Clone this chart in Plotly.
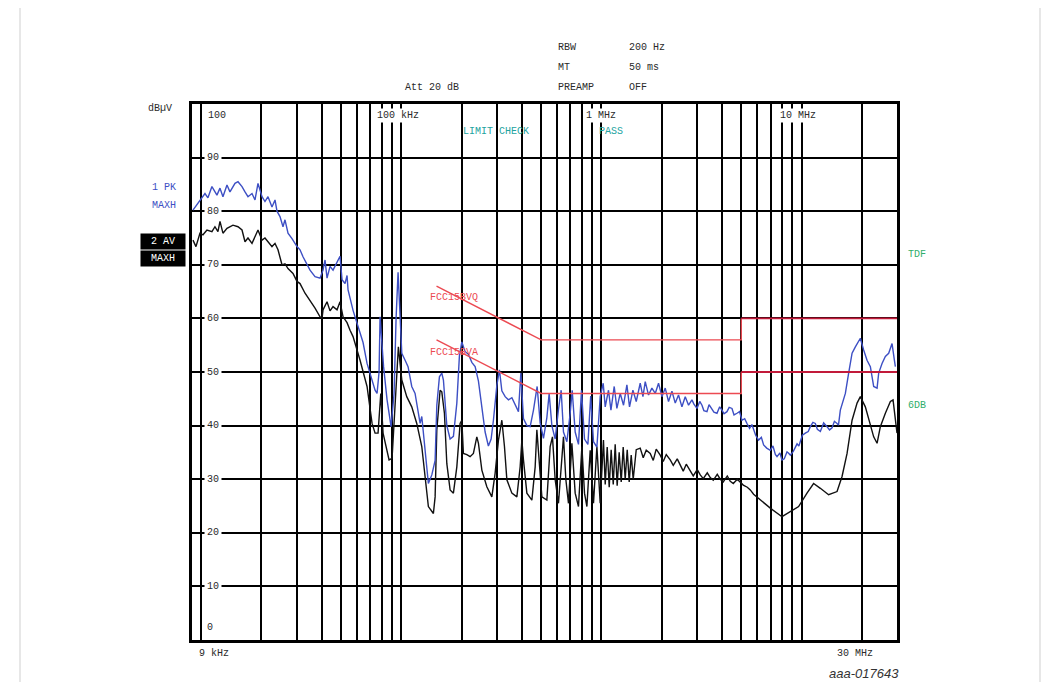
import math
import plotly.graph_objects as go

# ---------------- data ----------------
# trace 1: PK MAXH  (frequency kHz, level dBµV)
peak_trace = [
    (9.10, 80.2), (9.42, 81.0), (9.86, 82.1), (10.21, 83.0), (10.45, 83.3), (10.81, 82.5), (11.32, 84.6),
    (11.99, 83.0), (12.42, 84.3), (12.85, 82.7), (13.46, 84.9), (13.93, 83.6), (14.76, 85.2), (15.28, 85.5),
    (16.00, 84.6), (16.56, 83.6), (17.14, 82.7), (17.95, 83.3), (18.58, 82.1), (19.23, 85.2), (20.14, 82.7),
    (20.84, 81.8), (21.58, 82.7), (22.59, 80.8), (23.39, 82.1), (23.93, 80.0), (24.77, 79.0), (25.64, 77.1),
    (26.24, 78.4), (27.16, 75.9), (28.44, 74.9), (30.13, 73.4), (31.19, 72.8), (32.28, 71.5), (33.81, 70.2),
    (34.99, 69.0), (37.07, 67.8), (39.26, 67.5), (40.64, 69.0), (41.59, 70.9), (42.56, 67.5), (44.06, 69.7),
    (45.60, 69.0), (47.75, 70.6), (49.43, 71.6), (50.58, 67.2), (52.36, 66.5), (53.58, 68.0), (54.20, 65.3),
    (57.41, 61.5), (60.81, 58.5), (64.42, 55.5), (67.45, 51.6), (71.45, 48.5), (73.96, 46.6), (75.68, 46.0),
    (77.45, 50.0), (78.34, 60.3), (80.17, 54.7), (81.58, 51.0), (84.92, 44.8), (88.92, 39.8), (92.04, 46.0),
    (94.19, 60.0), (96.38, 68.6), (98.63, 60.0), (100.6, 53.5), (104.5, 52.2), (108.1, 51.0), (112.8, 47.3),
    (117.2, 46.0), (121.8, 42.3), (124.2, 40.4), (126.6, 41.7), (129.0, 38.6), (134.1, 31.7), (136.6, 29.2),
    (142.1, 30.8), (147.6, 33.5), (150.5, 43.8), (155.1, 49.1), (159.4, 49.8), (162.4, 48.5), (168.9, 40.0),
    (175.4, 37.5), (182.2, 38.0), (189.5, 44.2), (195.2, 53.0), (200.7, 55.6), (208.4, 53.8), (216.5, 53.3),
    (225.2, 51.8), (233.9, 51.0), (243.0, 48.3), (252.7, 43.5), (262.4, 38.8), (272.5, 36.2), (281.2, 37.5),
    (288.7, 41.0), (300.3, 47.5), (309.4, 50.4), (318.1, 46.5), (330.4, 45.4), (343.2, 44.8), (357.0, 45.2),
    (370.7, 44.0), (385.1, 42.6), (395.9, 49.8), (407.9, 41.3), (424.2, 40.0), (440.6, 39.8), (457.7, 42.9),
    (477.5, 47.3), (494.3, 40.5), (513.5, 37.6), (534.0, 41.5), (548.3, 46.0), (565.6, 40.0), (587.5, 37.5),
    (610.2, 43.0), (629.5, 46.6), (646.4, 38.8), (672.3, 37.0), (698.2, 42.3), (714.5, 46.6), (739.6, 38.8),
    (768.3, 36.5), (795.3, 46.6), (823.3, 37.5), (856.2, 36.5), (884.2, 45.5), (913.1, 37.0), (949.6, 36.0),
    (986.3, 45.4), (1021, 47.9), (1045, 43.5), (1085, 46.6), (1116, 42.9), (1159, 47.3), (1195, 43.2),
    (1242, 46.0), (1290, 43.8), (1341, 47.6), (1382, 43.5), (1437, 46.6), (1493, 44.5), (1563, 47.9),
    (1613, 45.4), (1656, 48.2), (1720, 45.7), (1788, 47.0), (1858, 46.0), (1930, 47.9), (2007, 45.4),
    (2084, 47.0), (2165, 44.5), (2252, 46.4), (2339, 44.2), (2429, 45.7), (2526, 43.5), (2624, 45.4),
    (2726, 43.8), (2834, 44.8), (2900, 44.0), (3003, 43.2), (3100, 44.5), (3181, 43.8), (3250, 42.8),
    (3369, 42.6), (3450, 43.9), (3568, 43.2), (3650, 42.5), (3780, 42.3), (3900, 43.5), (4004, 42.9),
    (4100, 42.2), (4241, 42.6), (4350, 43.4), (4493, 43.2), (4600, 42.0), (4759, 42.3), (4900, 42.6),
    (5041, 41.0), (5200, 41.3), (5339, 40.4), (5500, 39.5), (5650, 40.2), (5761, 39.2), (5900, 38.2),
    (6103, 37.3), (6300, 37.8), (6465, 36.4), (6700, 35.8), (6982, 35.4), (7200, 36.2), (7400, 34.6),
    (7543, 34.2), (7800, 34.9), (7989, 33.6), (8200, 33.8), (8463, 35.1), (8600, 34.9), (8790, 34.5),
    (9100, 35.2), (9311, 36.1), (9500, 36.6), (9700, 36.2), (9863, 37.0), (10100, 38.2), (10450, 38.6),
    (10800, 38.9), (11070, 39.8), (11400, 40.6), (11720, 40.4), (12000, 39.3), (12420, 38.9), (12900, 40.5),
    (13410, 39.8), (13800, 39.2), (14210, 39.6), (14600, 40.8), (15050, 40.4), (15300, 40.1), (15630, 42.9),
    (16560, 46.0), (17200, 49.8), (17890, 53.5), (18580, 54.7), (19680, 56.3), (20440, 54.1), (21250, 52.2),
    (22080, 51.0), (22940, 47.3), (23850, 47.0), (24300, 49.8), (25260, 51.6), (26240, 52.9), (27260, 53.5),
    (28340, 55.3), (29110, 52.2), (29440, 51.0),
]

# trace 2: AV MAXH  (frequency kHz, level dBµV)
average_trace = [
    (9.10, 74.6), (9.42, 73.4), (9.86, 75.9), (10.21, 75.6), (10.69, 76.5), (11.32, 76.2), (11.72, 77.1),
    (12.13, 76.2), (12.42, 78.1), (12.85, 75.9), (13.46, 76.8), (13.93, 77.1), (14.42, 77.4), (15.28, 77.1),
    (16.00, 76.5), (16.56, 74.3), (17.14, 75.0), (17.95, 74.0), (18.58, 75.3), (19.23, 76.5), (20.14, 74.6),
    (20.84, 75.0), (21.58, 74.3), (22.59, 73.4), (23.39, 74.0), (24.21, 72.8), (25.35, 70.0), (26.24, 70.2),
    (27.16, 69.3), (28.77, 68.4), (30.13, 66.9), (31.19, 66.5), (33.04, 64.7), (34.99, 63.4), (37.07, 61.9),
    (39.26, 60.3), (40.18, 60.0), (40.64, 61.6), (42.56, 63.1), (44.06, 61.4), (45.60, 62.2), (47.75, 61.6),
    (49.43, 63.1), (51.17, 60.3), (53.58, 59.2), (55.46, 57.8), (57.41, 56.6), (62.23, 52.2), (67.45, 47.3),
    (71.45, 40.4), (73.96, 38.6), (76.56, 38.6), (78.98, 46.0), (81.10, 38.6), (84.92, 35.4), (86.90, 33.6),
    (89.95, 33.9), (93.11, 42.9), (96.72, 54.7), (100.6, 48.5), (106.5, 45.4), (112.8, 43.5), (119.5, 40.4),
    (126.6, 36.1), (131.5, 29.9), (136.6, 24.9), (144.7, 23.6), (147.6, 26.7), (150.5, 39.2), (156.3, 46.6),
    (159.4, 46.3), (164.3, 42.3), (168.9, 32.9), (175.4, 28.0), (182.2, 27.4), (189.5, 32.3), (196.8, 40.4),
    (200.7, 41.0), (204.4, 34.8), (212.6, 34.6), (220.8, 34.2), (229.3, 34.8), (238.5, 37.9), (243.0, 36.7),
    (252.7, 31.7), (267.6, 28.6), (283.5, 26.7), (294.4, 31.1), (305.9, 37.3), (318.1, 41.0), (327.8, 36.1),
    (337.0, 29.9), (357.0, 27.4), (378.1, 26.7), (392.7, 32.3), (400.5, 37.3), (407.9, 33.6), (424.2, 27.4),
    (449.3, 26.1), (466.7, 32.3), (475.9, 39.2), (488.7, 33.6), (504.1, 26.7), (534.0, 26.1), (554.6, 36.1),
    (569.5, 37.9), (587.5, 29.9), (610.2, 25.5), (634.6, 34.2), (646.4, 37.9), (664.5, 29.9), (684.8, 25.5),
    (712.1, 36.7), (739.6, 27.4), (768.3, 24.9), (799.0, 36.1), (823.3, 27.4), (846.4, 24.9), (879.0, 35.4),
    (913.1, 25.5), (949.6, 36.1), (986.3, 25.5), (1024, 37.3), (1045, 29.0), (1069, 36.0), (1094, 28.5),
    (1119, 35.5), (1146, 29.0), (1172, 36.5), (1199, 28.8), (1227, 35.0), (1256, 29.5), (1285, 36.0),
    (1315, 30.0), (1346, 35.5), (1377, 29.5), (1409, 34.5), (1442, 30.0), (1493, 35.5), (1563, 35.8),
    (1618, 34.0), (1675, 35.4), (1754, 34.8), (1816, 33.5), (1879, 35.6), (1968, 34.5), (2037, 33.3),
    (2109, 34.6), (2208, 33.6), (2286, 32.6), (2393, 33.8), (2477, 32.5), (2564, 31.5), (2655, 32.8),
    (2780, 31.6), (2877, 30.6), (3013, 31.8), (3119, 30.8), (3228, 30.1), (3381, 31.2), (3499, 30.3),
    (3622, 29.8), (3793, 30.9), (3926, 30.0), (4064, 29.5), (4256, 30.6), (4406, 29.6), (4560, 29.2),
    (4775, 30.0), (4943, 29.5), (5117, 28.9), (5358, 28.5), (5546, 28.0), (5761, 27.2), (6223, 26.1),
    (6982, 24.6), (7989, 23.0), (8790, 24.0), (9672, 24.9), (10650, 27.4), (11490, 29.2), (12420, 28.3),
    (13660, 27.1), (15050, 27.7), (15940, 30.5), (16890, 34.8), (17890, 41.0), (18950, 44.2), (19680, 45.4),
    (20840, 43.5), (22080, 40.4), (22940, 37.9), (23850, 36.7), (24770, 39.8), (26240, 42.3), (27800, 44.5),
    (28670, 44.8), (29440, 41.0), (30000, 38.6),
]

# limit lines (FCC 15 class B conducted)
limit_freq_khz = [150, 500, 5000, 5000, 30000]
limit_qp_dbuv = [66, 56, 56, 60, 60]      # FCC15BVQ
limit_av_dbuv = [56, 46, 46, 50, 50]      # FCC15BVA

y_label_values = [10, 20, 30, 40, 50, 60, 70, 80, 90]
x_grid_khz = [10, 20, 30, 40, 50, 60, 70, 80, 90,
              100, 200, 300, 400, 500, 600, 700, 800, 900,
              1000, 2000, 3000, 4000, 5000, 6000, 7000, 8000, 9000,
              10000, 20000]
x_start_khz, x_stop_khz = 9, 30000

# ---------------- figure ----------------
OFF = 8  # page body margin of the browser
W, H = 1061 - 2 * OFF, 690 - 2 * OFF
L, R, T, B = 192 - OFF, 897 - OFF, 104 - OFF, 640 - OFF
MONO = "Liberation Mono, DejaVu Sans Mono, monospace"
TXT = "#2a2a2a"
BLUE = "#3d4fc4"
RED_L = "#ec4a52"
RED_D = "#c21a3a"
GREEN = "#2fae6a"
TEAL = "#22a3a0"


def px(x):
    return (x - OFF - L) / (R - L)


def py(y):
    return (B - (y - OFF)) / (B - T)


fig = go.Figure()

fig.add_trace(go.Scatter(x=[p[0] for p in average_trace], y=[p[1] for p in average_trace],
                         mode="lines", line=dict(color="#111111", width=1.4), hoverinfo="skip"))
fig.add_trace(go.Scatter(x=[p[0] for p in peak_trace], y=[p[1] for p in peak_trace],
                         mode="lines", line=dict(color=BLUE, width=1.4), hoverinfo="skip"))

for lim in (limit_qp_dbuv, limit_av_dbuv):
    fig.add_trace(go.Scatter(x=limit_freq_khz[:4], y=lim[:4], mode="lines",
                             line=dict(color=RED_L, width=1.4), hoverinfo="skip"))
    fig.add_trace(go.Scatter(x=limit_freq_khz[3:], y=lim[3:], mode="lines",
                             line=dict(color=RED_D, width=1.8), hoverinfo="skip"))

ann = []


def text(x, y, s, color=TXT, size=10, xanchor="left", bg=None, yref="paper", font=MONO, **kw):
    d = dict(x=x, y=y, xref="paper", yref=yref, text=s, showarrow=False,
             xanchor=xanchor, yanchor="middle",
             font=dict(family=font, size=size, color=color))
    if bg:
        d["bgcolor"] = bg
    d.update(kw)
    ann.append(d)


# header
text(px(556), py(48), "RBW")
text(px(627), py(48), "200 Hz")
text(px(556), py(68), "MT")
text(px(627), py(68), "50 ms")
text(px(403), py(88), "Att 20 dB")
text(px(556), py(88), "PREAMP")
text(px(627), py(88), "OFF")
text(px(146), py(108), "dBµV")

# frequency labels at top
text(px(375), py(115), "100 kHz", bg="white", borderpad=1)
text(px(584), py(115), "1 MHz", bg="white", borderpad=1)
text(px(778), py(115), "10 MHz", bg="white", borderpad=1)
text(px(461), py(131), "LIMIT CHECK", color=TEAL)
text(px(597), py(131), "PASS", color=TEAL)

# y labels inside the plot
text(px(206), 97.9, "100", yref="y", bg="white", borderpad=1)
for v in y_label_values:
    text(px(204), v, str(v), yref="y", bg="white", borderpad=2)
text(px(205), 2.4, "0", yref="y", bg="white", borderpad=1)

# trace labels
text(px(150), py(187), "1 PK", color=BLUE)
text(px(150), py(205), "MAXH", color=BLUE)
text(px(163), py(241), "2 AV", color="white", xanchor="center", bg="black", width=42, height=13)
text(px(163), py(258), "MAXH", color="white", xanchor="center", bg="black", width=42, height=13)

# limit names
text(px(428), py(297), "FCC15BVQ", color=RED_L)
text(px(428), py(352), "FCC15BVA", color=RED_L)

# right side
text(px(906), py(254), "TDF", color=GREEN)
text(px(906), py(405), "6DB", color=GREEN)

# bottom
text(px(197), py(653), "9 kHz")
text(px(835), py(653), "30 MHz")
text(px(901), py(673), "<i>aaa-017643</i>", color="#333333", size=13,
     xanchor="right", font="Liberation Sans, Arial, sans-serif")

fig.update_layout(
    width=W, height=H,
    margin=dict(l=L, r=W - R, t=T, b=H - B, pad=0),
    paper_bgcolor="white", plot_bgcolor="white",
    showlegend=False,
    annotations=ann,
    shapes=[dict(type="rect", xref="paper", yref="paper",
                 x0=px(20), x1=px(1040), y0=py(720), y1=py(5),
                 line=dict(color="#cfcfcf", width=1), layer="below")],
)

fig.update_xaxes(type="log", range=[math.log10(x_start_khz), math.log10(x_stop_khz)],
                 tickvals=x_grid_khz, showticklabels=False, ticks="",
                 showgrid=True, gridcolor="black", gridwidth=2,
                 showline=True, linecolor="black", linewidth=3, mirror=True, zeroline=False)
fig.update_yaxes(range=[0, 100], tickvals=y_label_values, showticklabels=False, ticks="",
                 showgrid=True, gridcolor="black", gridwidth=2,
                 showline=True, linecolor="black", linewidth=3, mirror=True, zeroline=False)

fig.write_html("out.html")
